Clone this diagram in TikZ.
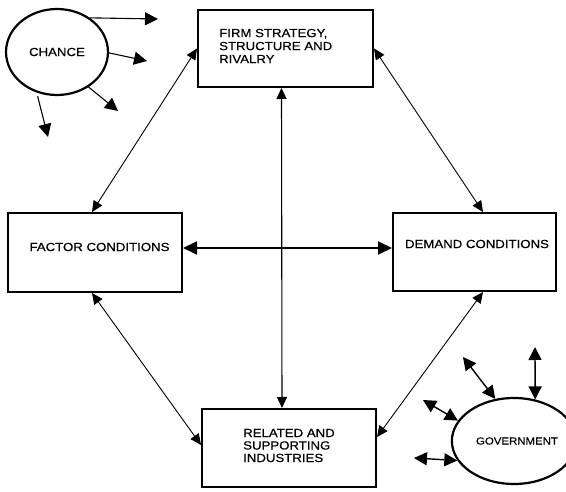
\documentclass[tikz,border=0pt]{standalone}
\usepackage{fontspec}
\newfontfamily\lab[FakeStretch=1.12,FakeBold=0.5]{Liberation Sans}
\usetikzlibrary{arrows.meta,shapes.geometric,calc}
\tikzset{
  box/.style={draw, line width=2pt, rectangle, inner sep=0pt},
  oval/.style={draw, line width=2.2pt, ellipse, inner sep=0pt},
  txt/.style={inner sep=0pt, font=\lab\fontsize{11.8}{13}\selectfont},
  conn/.style={line width=0.9pt, {Triangle[length=11pt,width=10pt]}-{Triangle[length=11pt,width=10pt]}},
  bigconn/.style={line width=1.8pt, {Triangle[length=14pt,width=13pt]}-{Triangle[length=14pt,width=13pt]}},
  chancearrow/.style={line width=1.1pt, -{Triangle[length=13pt,width=13pt]}},
  govarrow/.style={line width=1.4pt, {Triangle[length=13pt,width=13pt]}-{Triangle[length=13pt,width=13pt]}}
}
\begin{document}
\begin{tikzpicture}[x=1pt,y=-1pt]
\useasboundingbox[fill=white] (0,0) rectangle (566,492);
% boxes
\node[box, minimum width=175pt, minimum height=77pt] (firm) at (285.5,48.5) {};
\node[box, minimum width=174pt, minimum height=79pt] (factor) at (95,252.5) {};
\node[box, minimum width=163pt, minimum height=78pt] (demand) at (474.5,252) {};
\node[box, minimum width=174pt, minimum height=78pt] (related) at (289,448) {};
% texts
\node[txt, anchor=west, align=left] (firmtxt) at (219,46) {FIRM STRATEGY,\\STRUCTURE AND\\RIVALRY};
\node[txt] (factortxt) at (99.5,247) {FACTOR CONDITIONS};
\node[txt] (demandtxt) at (477,244) {DEMAND CONDITIONS};
\node[txt, anchor=west, align=left, font=\lab\fontsize{11.8}{12.5}\selectfont] (relatedtxt) at (243,445.5) {RELATED AND\\SUPPORTING\\INDUSTRIES};
% ovals
\node[oval, minimum width=102pt, minimum height=86pt, txt] (chance) at (57,52) {CHANCE};
\node[oval, minimum width=100pt, minimum height=86pt, txt, font=\lab\fontsize{10.2}{12}\selectfont] (government) at (514,441) {\hspace{6pt}GOVERNMENT};
% main connectors
\draw[conn] (firm.west) -- ([xshift=-3pt]factor.north);
\draw[conn] (firm.east) -- ([xshift=8.5pt]demand.north);
\draw[conn, line width=1.1pt] ([xshift=-4pt]firm.south) -- ([xshift=-7pt]related.north);
\draw[conn] ([xshift=-3pt]factor.south) -- ([yshift=3pt]related.west);
\draw[conn] ([xshift=8.5pt]demand.south) -- ([yshift=11pt]related.east);
\draw[bigconn] ([yshift=4.5pt]factor.east) -- ([yshift=4pt]demand.west);
% chance arrows
\coordinate (c1) at (158,19);
\coordinate (c2) at (147,61);
\coordinate (c3) at (118,111);
\coordinate (c4) at (48,137);
\draw[chancearrow] (chance.46) -- (c1);
\draw[chancearrow] (chance.-1) -- (c2);
\draw[chancearrow] (chance.-48) -- (c3);
\draw[chancearrow] ([shift={(-1pt,-3pt)}]chance.-114) -- (c4);
% government arrows
\coordinate (g1) at (535,347);
\coordinate (g2) at (463,357);
\coordinate (g3) at (423,400);
\coordinate (g4) at (414,458);
\draw[govarrow] (g1) -- (government.63);
\draw[govarrow] (g2) -- (government.114);
\draw[govarrow] (g3) -- (government.160);
\draw[govarrow] (g4) -- (government.199);
\end{tikzpicture}
\end{document}
